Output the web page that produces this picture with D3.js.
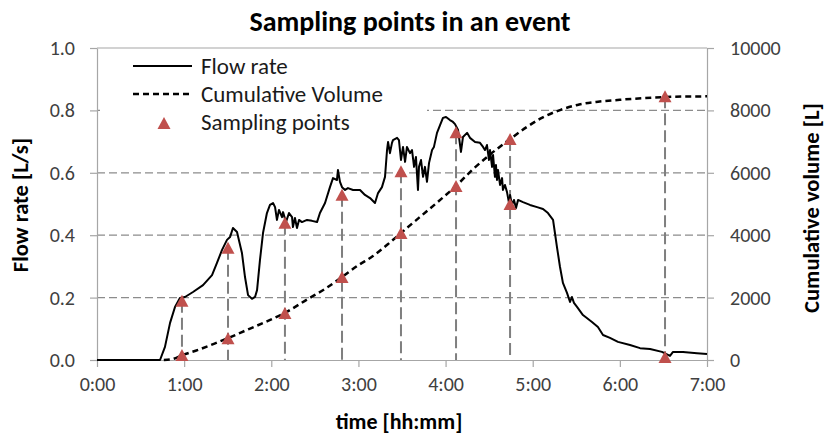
<!DOCTYPE html>
<html>
<head>
<meta charset="utf-8">
<script src="https://cdn.jsdelivr.net/npm/d3@7"></script>
<style>
  html, body { margin: 0; padding: 0; background: #ffffff; }
  svg { display: block; }
  text { font-family: Carlito, Lato, "Open Sans", sans-serif; }
</style>
</head>
<body>
<script>
// Flow rate record (minutes since start, L/s)
const flowTime = [0, 43.4, 46.8, 50.3, 53.7, 57.1, 60.6, 66.1, 73.0, 79.2, 82.6, 86.1, 89.5, 91.6, 93.6, 96.4,
  99.8, 101.9, 104.0, 106.7, 108.8, 110.2, 112.2, 114.3, 117.0, 119.1, 121.2, 122.6, 123.9, 125.3, 127.4, 128.1,
  130.1, 132.2, 134.3, 134.9, 136.3, 137.7, 139.1, 141.1, 144.6, 148.0, 151.5, 153.5, 157.0, 160.4, 162.5, 165.2,
  165.9, 167.3, 168.7, 170.8, 172.8, 176.3, 181.1, 184.5, 188.0, 191.4, 193.5, 196.2, 198.3, 199.7, 200.4, 201.7,
  203.1, 203.8, 206.6, 207.9, 209.3, 210.7, 212.1, 213.4, 215.5, 216.9, 218.3, 219.6, 221.0, 221.7, 223.1, 224.5,
  225.8, 227.2, 228.6, 230.7, 232.0, 234.1, 236.2, 238.2, 240.3, 243.0, 245.1, 246.5, 248.6, 250.6, 252.0, 254.8,
  256.8, 260.3, 263.7, 265.8, 267.1, 268.5, 269.9, 270.6, 272.0, 272.7, 274.0, 274.7, 275.4, 276.1, 277.5, 278.9,
  279.5, 280.9, 282.3, 283.7, 284.4, 285.7, 287.1, 288.5, 289.9, 293.3, 298.1, 303.0, 307.1, 310.5, 314.0, 315.3,
  316.7, 318.8, 320.8, 323.6, 325.7, 327.0, 328.4, 330.5, 334.6, 340.8, 344.9, 348.4, 353.2, 358.7, 367.0, 373.9,
  380.8, 389.0, 394.5, 396.6, 403.5, 413.1, 420.0];
const flowRate = [0, 0, 0.042, 0.119, 0.170, 0.199, 0.202, 0.218, 0.240, 0.272, 0.311, 0.353, 0.385, 0.394, 0.423, 0.410,
  0.343, 0.266, 0.208, 0.196, 0.202, 0.224, 0.320, 0.407, 0.471, 0.497, 0.503, 0.490, 0.449, 0.481, 0.458, 0.474,
  0.442, 0.471, 0.458, 0.426, 0.455, 0.423, 0.449, 0.442, 0.449, 0.446, 0.442, 0.471, 0.503, 0.554, 0.583, 0.577,
  0.609, 0.571, 0.554, 0.545, 0.551, 0.545, 0.545, 0.529, 0.519, 0.503, 0.535, 0.554, 0.587, 0.673, 0.699, 0.663,
  0.696, 0.705, 0.712, 0.705, 0.641, 0.683, 0.635, 0.683, 0.663, 0.673, 0.619, 0.651, 0.545, 0.619, 0.641, 0.587,
  0.619, 0.571, 0.631, 0.673, 0.683, 0.728, 0.753, 0.776, 0.779, 0.769, 0.763, 0.756, 0.737, 0.667, 0.715, 0.728,
  0.712, 0.699, 0.696, 0.683, 0.673, 0.689, 0.641, 0.673, 0.619, 0.657, 0.587, 0.625, 0.577, 0.609, 0.561, 0.583,
  0.545, 0.561, 0.538, 0.503, 0.529, 0.497, 0.513, 0.487, 0.513, 0.506, 0.497, 0.490, 0.484, 0.471, 0.449, 0.407,
  0.362, 0.298, 0.247, 0.215, 0.186, 0.202, 0.183, 0.170, 0.144, 0.122, 0.106, 0.080, 0.071, 0.058, 0.048, 0.038,
  0.035, 0.026, 0.013, 0.026, 0.026, 0.022, 0.019];

// Cumulative volume (minutes since start, L)
const volumeTime = [46, 52, 58.5, 70, 80, 90.2, 105, 117, 129.4, 145, 157, 168.7, 180, 190, 200, 209.3, 222, 235, 247.2,
  259, 271, 284.4, 296, 307, 318.8, 332, 345, 360, 375, 391.1, 405, 420];
const volume = [0, 30, 150, 330, 510, 700, 1000, 1240, 1510, 1950, 2280, 2660, 3040, 3330, 3700, 4070, 4570, 5080, 5580,
  6120, 6600, 7080, 7470, 7780, 8010, 8190, 8280, 8340, 8390, 8430, 8445, 8450];

// Sampling points
const sampleTime = [58.5, 90.2, 129.4, 168.7, 209.3, 247.2, 284.4, 391.1];
const sampleFlow = [0.19, 0.36, 0.44, 0.53, 0.605, 0.73, 0.50, 0.01];
const sampleVolume = [160, 700, 1510, 2660, 4070, 5580, 7080, 8450];

// Axis ticks
const flowTicks = [0, 0.2, 0.4, 0.6, 0.8, 1.0];
const volumeTicks = [0, 2000, 4000, 6000, 8000, 10000];
const timeTicks = [0, 60, 120, 180, 240, 300, 360, 420];
const timeLabels = ["0:00", "1:00", "2:00", "3:00", "4:00", "5:00", "6:00", "7:00"];

const W = 826, H = 437;
const plot = { left: 97, right: 707, top: 48, bottom: 360 };
const axisColor = "#a6a6a6";
const gridColor = "#8c8c8c";
const markerColor = "#c0504d";
const labelColor = "#404040";

const svg = d3.select("body").append("svg").attr("width", W).attr("height", H);

const x = d3.scaleLinear().domain([0, 420]).range([plot.left, plot.right]);
const yFlow = d3.scaleLinear().domain([0, 1]).range([plot.bottom, plot.top]);
const yVol = d3.scaleLinear().domain([0, 10000]).range([plot.bottom, plot.top]);

// Horizontal gridlines
svg.append("g").selectAll("line")
  .data(flowTicks.filter(v => v > 0 && v < 1))
  .join("line")
  .attr("x1", plot.left).attr("x2", plot.right)
  .attr("y1", d => yFlow(d)).attr("y2", d => yFlow(d))
  .attr("stroke", gridColor).attr("stroke-width", 1.2)
  .attr("stroke-dasharray", "8,4");

// Top frame line
svg.append("line")
  .attr("x1", plot.left).attr("x2", plot.right)
  .attr("y1", yFlow(1)).attr("y2", yFlow(1))
  .attr("stroke", axisColor).attr("stroke-width", 1.2);

// Legend background hides the gridline behind it
svg.append("rect")
  .attr("x", 100).attr("y", 52).attr("width", 327).attr("height", 86)
  .attr("fill", "#ffffff");

// Axes
function styleAxis(g) {
  g.select(".domain").attr("stroke", axisColor).attr("stroke-width", 1.2);
  g.selectAll(".tick line").attr("stroke", axisColor).attr("stroke-width", 1.2);
  g.selectAll(".tick text").attr("fill", labelColor).style("font-size", "20px");
}

svg.append("g")
  .attr("transform", `translate(${plot.left},0)`)
  .call(d3.axisLeft(yFlow).tickValues(flowTicks).tickFormat(d3.format(".1f"))
    .tickSize(7).tickSizeOuter(0).tickPadding(15))
  .call(styleAxis);

svg.append("g")
  .attr("transform", `translate(${plot.right},0)`)
  .call(d3.axisRight(yVol).tickValues(volumeTicks).tickFormat(d3.format("d"))
    .tickSize(7).tickSizeOuter(0).tickPadding(16))
  .call(styleAxis);

svg.append("g")
  .attr("transform", `translate(0,${plot.bottom})`)
  .call(d3.axisBottom(x).tickValues(timeTicks).tickFormat((d, i) => timeLabels[i])
    .tickSize(7).tickSizeOuter(0).tickPadding(10))
  .call(styleAxis);

// Vertical drop lines from each sampling instant
svg.append("g").selectAll("line")
  .data(sampleTime)
  .join("line")
  .attr("x1", d => x(d)).attr("x2", d => x(d))
  .attr("y1", (d, i) => Math.min(yFlow(sampleFlow[i]), yVol(sampleVolume[i])))
  .attr("y2", plot.bottom)
  .attr("stroke", "#7f7f7f").attr("stroke-width", 2)
  .attr("stroke-dasharray", "12,5");

// Cumulative volume curve
const volumeLine = d3.line()
  .x((d, i) => x(volumeTime[i]))
  .y(d => yVol(d))
  .curve(d3.curveMonotoneX);
svg.append("path")
  .attr("d", volumeLine(volume))
  .attr("fill", "none").attr("stroke", "#000000")
  .attr("stroke-width", 2.5).attr("stroke-dasharray", "6,4");

// Flow rate line
const flowLine = d3.line()
  .x((d, i) => x(flowTime[i]))
  .y(d => yFlow(d));
svg.append("path")
  .attr("d", flowLine(flowRate))
  .attr("fill", "none").attr("stroke", "#000000")
  .attr("stroke-width", 2).attr("stroke-linejoin", "round");

// Triangle marker centred on its bounding box
const triW = 13, triH = 12;
const triPath = `M0,${-triH / 2}L${triW / 2},${triH / 2}L${-triW / 2},${triH / 2}Z`;

const markers = svg.append("g");
markers.selectAll("path.flow")
  .data(sampleTime)
  .join("path")
  .attr("class", "flow")
  .attr("d", triPath)
  .attr("transform", (d, i) => `translate(${x(d)},${yFlow(sampleFlow[i])})`)
  .attr("fill", markerColor);
markers.selectAll("path.vol")
  .data(sampleTime)
  .join("path")
  .attr("class", "vol")
  .attr("d", triPath)
  .attr("transform", (d, i) => `translate(${x(d)},${yVol(sampleVolume[i])})`)
  .attr("fill", markerColor);

// Legend
const legend = svg.append("g");
legend.append("line").attr("x1", 133).attr("x2", 192).attr("y1", 66).attr("y2", 66)
  .attr("stroke", "#000").attr("stroke-width", 2);
legend.append("line").attr("x1", 133).attr("x2", 192).attr("y1", 94).attr("y2", 94)
  .attr("stroke", "#000").attr("stroke-width", 2.5).attr("stroke-dasharray", "6,4");
legend.append("path").attr("d", triPath).attr("transform", "translate(164,123)").attr("fill", markerColor);
const legendItems = ["Flow rate", "Cumulative Volume", "Sampling points"];
legend.selectAll("text")
  .data(legendItems)
  .join("text")
  .attr("x", 201).attr("y", (d, i) => 74 + i * 28)
  .attr("fill", "#1a1a1a").style("font-size", "23px")
  .text(d => d);

// Titles
svg.append("text")
  .attr("x", 410).attr("y", 31).attr("text-anchor", "middle")
  .style("font-size", "28px").style("font-weight", "bold").attr("fill", "#000")
  .text("Sampling points in an event");

svg.append("text")
  .attr("x", 399).attr("y", 429).attr("text-anchor", "middle")
  .style("font-size", "22px").style("font-weight", "bold").attr("fill", "#000")
  .text("time [hh:mm]");

svg.append("text")
  .attr("transform", "translate(28,205) rotate(-90)").attr("text-anchor", "middle")
  .style("font-size", "22.5px").style("font-weight", "bold").attr("fill", "#000")
  .text("Flow rate [L/s]");

svg.append("text")
  .attr("transform", "translate(819,208) rotate(-90)").attr("text-anchor", "middle")
  .style("font-size", "22.5px").style("font-weight", "bold").attr("fill", "#000")
  .text("Cumulative volume [L]");
</script>
</body>
</html>
